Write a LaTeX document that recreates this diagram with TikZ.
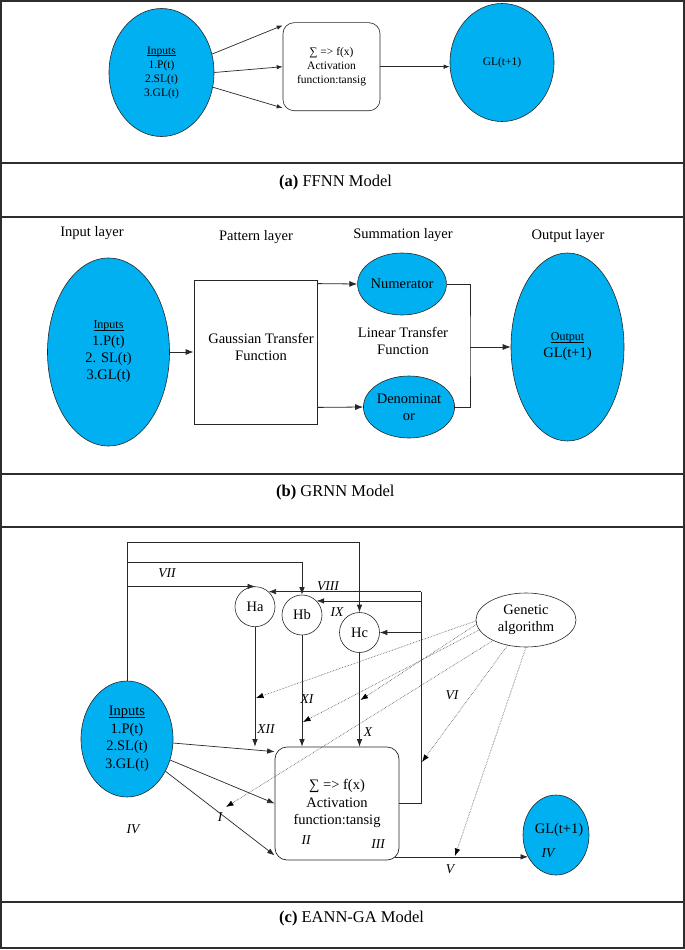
\documentclass[tikz,border=0pt]{standalone}
\usepackage{fontspec}
\setmainfont{Liberation Serif}
\usetikzlibrary{arrows.meta,shapes.geometric,calc}
\definecolor{cyanfill}{RGB}{0,176,240}
\definecolor{framec}{RGB}{45,45,45}
\definecolor{linec}{RGB}{40,40,40}
\newcommand{\ulword}[1]{\underbar{#1}}
\begin{document}
\begin{tikzpicture}[x=1pt,y=-1pt,
  frame/.style={draw=framec,line width=1.3pt},
  blueell/.style={ellipse,draw=black!85,fill=cyanfill,line width=0.6pt,align=center,inner sep=0pt},
  fa/.style={font=\fontsize{11.5}{14}\selectfont},
  fb/.style={font=\fontsize{14.5}{17}\selectfont},
  fc/.style={font=\fontsize{14.5}{17.5}\selectfont},
  captext/.style={font=\fontsize{16.5}{20}\selectfont,anchor=west,inner sep=0pt},
  roman/.style={font=\fontsize{13.5}{16}\selectfont\itshape,inner sep=0pt},
  arra/.style={draw=linec,line width=0.7pt,-{Latex[length=6pt,width=4.5pt]}},
  arrb/.style={draw=linec,line width=0.8pt,-{Latex[length=8pt,width=6pt]}},
  arrc/.style={draw=linec,line width=0.7pt,-{Latex[length=7.5pt,width=5.5pt]}},
  dotarr/.style={draw=black!70,densely dotted,line width=0.6pt,-{Latex[length=7.5pt,width=5.5pt,color=black]}},
  plain/.style={draw=linec,line width=0.7pt},
  plainb/.style={draw=linec,line width=0.8pt},
]
\useasboundingbox (0,0) rectangle (685,950);
\fill[white] (0,0) rectangle (685,950);
% ---------- frame ----------
\draw[frame] (1,1) rectangle (684,948);
\draw[frame] (1,163) -- (684,163);
\draw[frame] (1,217) -- (684,217);
\draw[frame] (1,474) -- (684,474);
\draw[frame] (1,527) -- (684,527);
\draw[frame] (1,902) -- (684,902);

% ---------- (a) FFNN ----------
\node[blueell,fa,minimum width=105pt,minimum height=128pt] (inA) at (161.5,72.5)
  {\ulword{Inputs}\\1.P(t)\\2.SL(t)\\3.GL(t)};
\node[draw=black!85,line width=0.6pt,rounded corners=11pt,minimum width=97pt,minimum height=88pt,
  align=center,fa,inner sep=0pt] (boxA) at (331.5,66.7) {∑ => f(x)\\Activation\\function:tansig};
\node[blueell,fa,minimum width=104pt,minimum height=118pt] (glA) at (502,62.5) {GL(t+1)};
\draw[arra] (inA.20) -- ([yshift=-3pt]boxA.north west);
\draw[arra] (inA.east) -- (boxA.west);
\draw[arra] (inA.-16) -- ([yshift=3pt]boxA.south west);
\draw[arra] (boxA.east) -- (boxA.east -| glA.west);
\node[captext] (capA) at (279,183) {\textbf{(a)} FFNN Model};

% ---------- (b) GRNN ----------
\node[fb] (labIn) at (92,233) {Input layer};
\node[fb] (labPat) at (256,237) {Pattern layer};
\node[fb] (labSum) at (403,235) {Summation layer};
\node[fb] (labOut) at (568,236) {Output layer};
\node[blueell,fb,minimum width=122pt,minimum height=188pt] (inB) at (108.5,352)
  {{\fontsize{12}{14}\selectfont\ulword{Inputs}}\\1.P(t)\\2. SL(t)\\3.GL(t)};
\node[draw=black!85,line width=0.8pt,minimum width=123pt,minimum height=144pt,inner sep=0pt] (boxB) at (255.5,352) {};
\node[fb,align=center,inner sep=0pt] (gtf) at (261,347) {Gaussian Transfer\\Function};
\node[blueell,fb,minimum width=88pt,minimum height=62pt] (numB) at (402,284) {Numerator};
\node[blueell,fb,minimum width=88pt,minimum height=62pt] (denB) at (409,407) {Denominat\\or};
\node[fb,align=center,inner sep=0pt] (ltf) at (403,341) {Linear Transfer\\Function};
\node[blueell,fb,minimum width=113pt,minimum height=188pt] (outB) at (567.5,347)
  {{\fontsize{12}{14}\selectfont\ulword{Output}}\\GL(t+1)};
\draw[arrb] (inB.east) -- (boxB.west);
\draw[arrb] ([yshift=-4pt]boxB.north east) -- (numB.west);
\draw[arrb] ([yshift=17pt]boxB.south east) -- (denB.west);
\coordinate (bj) at (470,347);
\draw[plainb] (numB.east) -| (bj) |- (denB.east);
\draw[arrb] (bj) -- (bj -| outB.west);
\node[captext] (capB) at (276,493) {\textbf{(b)} GRNN Model};

% ---------- (c) EANN-GA ----------
\node[blueell,fc,minimum width=92pt,minimum height=116pt] (inC) at (127,739)
  {\ulword{Inputs}\\1.P(t)\\2.SL(t)\\3.GL(t)};
\node[circle,draw=black!85,line width=0.6pt,fill=white,minimum size=40pt,fc,inner sep=0pt] (Ha) at (255,606.7) {Ha};
\node[circle,draw=black!85,line width=0.6pt,fill=white,minimum size=40pt,fc,inner sep=0pt] (Hb) at (302,615) {Hb};
\node[circle,draw=black!85,line width=0.6pt,fill=white,minimum size=40pt,fc,inner sep=0pt] (Hc) at (359.5,632.5) {Hc};
\node[draw=black!85,line width=0.7pt,rounded corners=12pt,minimum width=124pt,minimum height=113pt,
  align=center,fc,inner sep=0pt] (boxC) at (337,803.5) {∑ => f(x)\\Activation\\function:tansig};
\node[ellipse,draw=black!85,line width=0.6pt,minimum width=100pt,minimum height=54pt,align=center,fc,inner sep=0pt]
  (gaC) at (526,620) {Genetic\\algorithm};
\node[blueell,minimum width=66pt,minimum height=80pt] (glC) at (556,835) {};
\node[fc,inner sep=0pt] (glCt) at (559,830) {GL(t+1)};

% input feedback lines to hidden nodes
\coordinate (c1) at (359.5,542);
\coordinate (c2) at (302,562);
\draw[arrc] (inC.north) |- (c1) -- (Hc.north);
\draw[arrc] (inC.north |- c2) -- (c2) -- (Hb.north);
\draw[arrc] (inC.north |- Ha.north) -- (Ha.north);

% loop from output box back to hidden nodes
\coordinate (lx) at (421,600);
\draw[plain] (boxC.east) -| (lx |- Ha.48);
\draw[arrc] (lx |- Ha.48) -- (Ha.48);
\draw[arrc] (lx |- Hb.44) -- (Hb.44);
\draw[arrc] (lx |- Hc.east) -- (Hc.east);

% hidden nodes down to box
\draw[arrc] (Ha.south) -- (Ha.south |- boxC.north);
\draw[arrc] (Hb.south) -- (Hb.south |- boxC.north);
\draw[arrc] (Hc.south) -- (Hc.south |- boxC.north);

% inputs to box
\draw[arrc] (inC.-5) -- ([yshift=-5pt]boxC.north west);
\draw[arrc] (inC.-26) -- (boxC.west);
\draw[arrc] (inC.-40) -- ([yshift=5pt]boxC.south west);

% output
\draw[arrc] ([xshift=-4pt]glC.218 -| boxC.east) -- (glC.218);

% genetic algorithm dotted links
\coordinate (d1) at (256,698);
\coordinate (d2) at (360.5,700);
\coordinate (d3) at (303,722);
\coordinate (d4) at (226,807);
\coordinate (d5) at (422,762);
\coordinate (d6) at (455,856);
\draw[dotarr] (gaC.181) -- (d1);
\draw[dotarr] (gaC.185) -- (d2);
\draw[dotarr] (gaC.192) -- (d3);
\draw[dotarr] (gaC.212) -- (d4);
\draw[dotarr] (gaC.234) -- (d5);
\draw[dotarr] (gaC.270) -- (d6);

% roman numeral labels
\node[roman] (rVII) at (167,573) {VII};
\node[roman] (rVIII) at (328,586) {VIII};
\node[roman] (rIX) at (337,612) {IX};
\node[roman] (rXI) at (307,699) {XI};
\node[roman] (rXII) at (266,729) {XII};
\node[roman] (rX) at (368,732) {X};
\node[roman] (rVI) at (452,695) {VI};
\node[roman] (rI) at (220,817) {I};
\node[roman] (rIVa) at (133,829) {IV};
\node[roman] (rII) at (306,840) {II};
\node[roman] (rIII) at (378,844) {III};
\node[roman] (rV) at (450,869) {V};
\node[roman] (rIVb) at (548,853) {IV};

\node[captext] (capC) at (279,919) {\textbf{(c)} EANN-GA Model};
\end{tikzpicture}
\end{document}
